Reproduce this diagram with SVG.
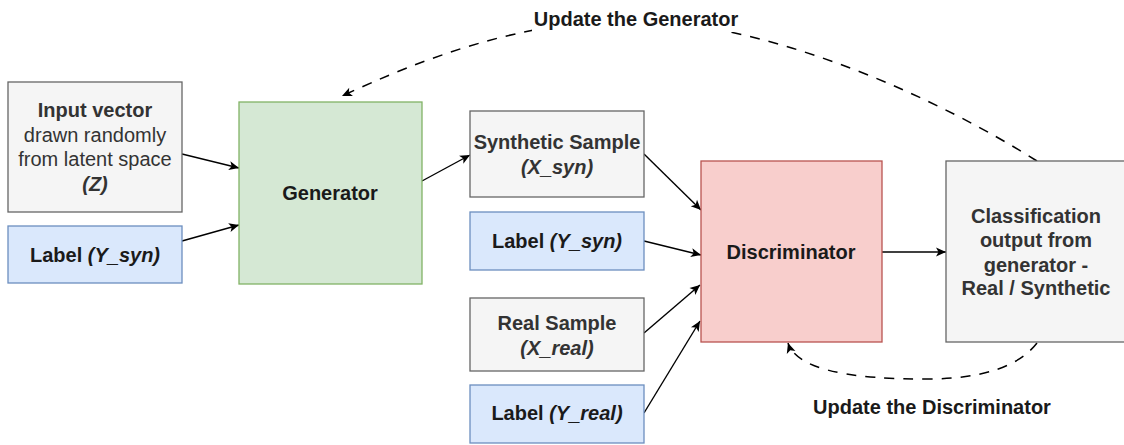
<svg xmlns="http://www.w3.org/2000/svg" width="1124" height="445" viewBox="0 0 1124 445">
<style>
text{font-family:"Liberation Sans",Arial,sans-serif;font-size:20px;text-anchor:middle}
.b{font-weight:bold}
.i{font-style:italic;font-weight:bold}
.g{fill:#333333}
.k{fill:#1a1a1a}
.gray{fill:#f5f5f5;stroke:#666666;stroke-width:1.3}
.blue{fill:#dae8fc;stroke:#6c8ebf;stroke-width:1.3}
.green{fill:#d5e8d4;stroke:#82b366;stroke-width:1.3}
.red{fill:#f8cecc;stroke:#b85450;stroke-width:1.3}
.edge{fill:none;stroke:#000;stroke-width:1.4;marker-end:url(#arr)}
.dash{fill:none;stroke:#000;stroke-width:1.5;stroke-dasharray:10 9;marker-end:url(#arr)}
</style>
<defs>
<marker id="arr" markerUnits="userSpaceOnUse" markerWidth="12" markerHeight="12" viewBox="0 0 12 12" refX="11" refY="6" orient="auto">
<path d="M1,1.5 L11,6 L1,10.5 L3.5,6 z" fill="#000"/>
</marker>
</defs>
<rect width="1124" height="445" fill="#ffffff"/>

<g id="connectors">
<path class="edge" d="M182,154 L239,168"/>
<path class="edge" d="M182,241 L239,225"/>
<path class="edge" d="M422,181 L470,155"/>
<path class="edge" d="M644,154 L701,210"/>
<path class="edge" d="M644,241 L701,255"/>
<path class="edge" d="M644,333 L700,285"/>
<path class="edge" d="M644,413 L700,321"/>
<path class="edge" d="M882,252 L946,252"/>
<path class="dash" d="M1037,161 C940,100 780,25 636,20 C520,20 420,60 342,96"/>
<path class="dash" d="M1037,343 Q1010,378 930,379 Q800,380 788,343"/>
</g>

<g id="label-update-generator">
<rect x="532" y="5" width="208" height="27" fill="#ffffff"/>
<text class="b k" x="636" y="26">Update the Generator</text>
</g>
<g id="label-update-discriminator">
<text class="b k" x="932" y="414">Update the Discriminator</text>
</g>

<g id="input-vector">
<rect class="gray" x="8" y="82" width="174" height="130"/>
<text class="g" x="95" y="117"><tspan class="b">Input vector</tspan></text>
<text class="g" x="95" y="142">drawn randomly</text>
<text class="g" x="95" y="166">from latent space</text>
<text class="g i" x="95" y="191">(Z)</text>
</g>

<g id="label-y-syn-1">
<rect class="blue" x="8" y="226" width="174" height="57"/>
<text class="k" x="95" y="262"><tspan class="b">Label </tspan><tspan class="i">(Y_syn)</tspan></text>
</g>

<g id="generator">
<rect class="green" x="239" y="102" width="183" height="182"/>
<text class="b k" x="330" y="200">Generator</text>
</g>

<g id="synthetic-sample">
<rect class="gray" x="470" y="111" width="174" height="86"/>
<text class="b g" x="557" y="149">Synthetic Sample</text>
<text class="i g" x="557" y="174">(X_syn)</text>
</g>

<g id="label-y-syn-2">
<rect class="blue" x="470" y="212" width="174" height="58"/>
<text class="k" x="557" y="248"><tspan class="b">Label </tspan><tspan class="i">(Y_syn)</tspan></text>
</g>

<g id="real-sample">
<rect class="gray" x="470" y="298" width="174" height="73"/>
<text class="b g" x="557" y="330">Real Sample</text>
<text class="i g" x="557" y="355">(X_real)</text>
</g>

<g id="label-y-real">
<rect class="blue" x="470" y="385" width="174" height="58"/>
<text class="k" x="557" y="420"><tspan class="b">Label </tspan><tspan class="i">(Y_real)</tspan></text>
</g>

<g id="discriminator">
<rect class="red" x="701" y="161" width="181" height="181"/>
<text class="b k" x="791" y="259">Discriminator</text>
</g>

<g id="classification">
<rect class="gray" x="946" y="161" width="182" height="181"/>
<text class="b g" x="1036" y="223">Classification</text>
<text class="b g" x="1036" y="247">output from</text>
<text class="b g" x="1036" y="272">generator -</text>
<text class="b g" x="1036" y="295">Real / Synthetic</text>
</g>
</svg>
